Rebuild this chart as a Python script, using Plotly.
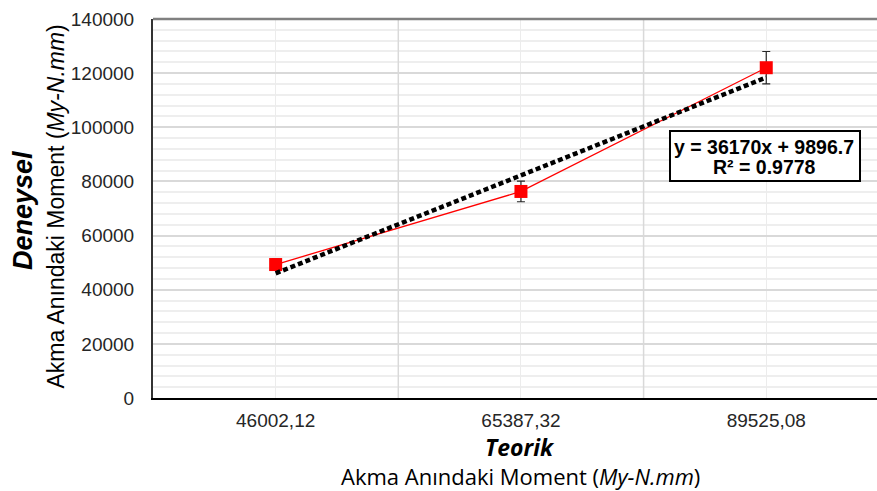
import plotly.graph_objects as go

# ---- data ----
categories = ["46002,12", "65387,32", "89525,08"]
x_pos = [1, 2, 3]
deneysel = [49300, 76300, 122000]
error_vals = [2000, 3800, 6000]
trend_slope = 36170
trend_intercept = 9896.7
r_squared = 0.9778
y_max = 140000

W, H = 877, 491
L, R, T, B = 153, 0, 19, 93
pw = W - L - R
ph = H - T - B
cat_px = 245.3
x_range = [0.5, 0.5 + pw / cat_px]

def px_x(px):
    return (px - L) / pw

def px_y(py):
    return (H - B - py) / ph

trend_y = [trend_slope * x + trend_intercept for x in x_pos]

# category boundary gridlines (between categories)
bx, by = [], []
for x in x_pos[:-1]:
    bx += [x + 0.5, x + 0.5, None]
    by += [0, y_max, None]

fig = go.Figure()

fig.add_trace(go.Scatter(
    x=bx, y=by, mode="lines", line=dict(color="#d9d9d9", width=1.5),
    showlegend=False, hoverinfo="skip",
))

fig.add_trace(go.Scatter(
    x=x_pos, y=deneysel, mode="lines+markers",
    line=dict(color="#ff0000", width=1.3),
    marker=dict(symbol="square", size=13, color="#ff0000"),
    error_y=dict(type="data", array=error_vals, visible=True,
                 color="#262626", thickness=1.2, width=4),
    showlegend=False, hoverinfo="skip",
))

fig.add_trace(go.Scatter(
    x=[x_pos[0], x_pos[-1]], y=[trend_y[0], trend_y[-1]], mode="lines",
    line=dict(color="#000000", width=4.5, dash="5px,3px"),
    showlegend=False, hoverinfo="skip",
))

tick_font = dict(family="Liberation Sans, Arial, sans-serif", size=19, color="#262626")

shapes = [
    dict(type="line", xref="paper", yref="paper", x0=0, x1=1, y0=1, y1=1,
         line=dict(color="#808080", width=2.5)),
    dict(type="rect", xref="paper", yref="paper",
         x0=px_x(670), x1=px_x(860), y0=px_y(181), y1=px_y(131),
         fillcolor="white", line=dict(color="#000000", width=2), layer="above"),
]

fig.update_layout(
    width=W, height=H,
    margin=dict(l=L, r=R, t=T, b=B, pad=0),
    paper_bgcolor="white", plot_bgcolor="white",
    xaxis=dict(
        range=x_range, tickmode="array", tickvals=x_pos, ticktext=categories,
        showgrid=True, gridcolor="#ececec", gridwidth=1.2,
        showline=True, linecolor="#000000", linewidth=1.5,
        ticks="outside", ticklen=4, tickcolor="rgba(0,0,0,0)",
        tickfont=tick_font, zeroline=False, fixedrange=True,
    ),
    yaxis=dict(
        range=[0, y_max], tickmode="linear", tick0=0, dtick=20000,
        showgrid=True, gridcolor="#d9d9d9", gridwidth=1.5,
        minor=dict(tick0=0, dtick=4000, showgrid=True, gridcolor="#eeeeee", gridwidth=1.5),
        showline=True, linecolor="#333333", linewidth=2,
        ticks="outside", ticklen=13, tickcolor="rgba(0,0,0,0)",
        tickfont=tick_font, zeroline=False, tickformat="d", fixedrange=True,
    ),
    shapes=shapes,
)

eq_text = f"y = {trend_slope}x + {trend_intercept}"
r2_text = f"R² = {r_squared}"
box_font = dict(family="Liberation Sans, Arial, sans-serif", size=19.5, color="#000000")

annos = [
    dict(text=f"<b>{eq_text}</b>", x=px_x(764), y=px_y(146.7), font=box_font),
    dict(text=f"<b>{r2_text}</b>", x=px_x(764), y=px_y(166.7), font=box_font),
    dict(text="<b><i>Deneysel</i></b>", x=px_x(23), y=px_y(211), textangle=-90,
         font=dict(family="Liberation Sans, Arial, sans-serif", size=27, color="#000000")),
    dict(text="Akma Anındaki Moment (<i>My-N.mm</i>)", x=px_x(55), y=px_y(206.5), textangle=-90,
         font=dict(family="Liberation Sans, Arial, sans-serif", size=23, color="#000000")),
    dict(text="<b><i>Teorik</i></b>", x=px_x(520), y=px_y(446.5),
         font=dict(family="Open Sans, sans-serif", size=23, color="#000000")),
    dict(text="Akma Anındaki Moment (<i>My-N.mm</i>)", x=px_x(520.5), y=px_y(475.5),
         font=dict(family="Open Sans, sans-serif", size=22, color="#000000")),
]
for a in annos:
    fig.add_annotation(xref="paper", yref="paper", showarrow=False,
                       xanchor="center", yanchor="middle", borderpad=0, **a)

fig.write_html("out.html")
